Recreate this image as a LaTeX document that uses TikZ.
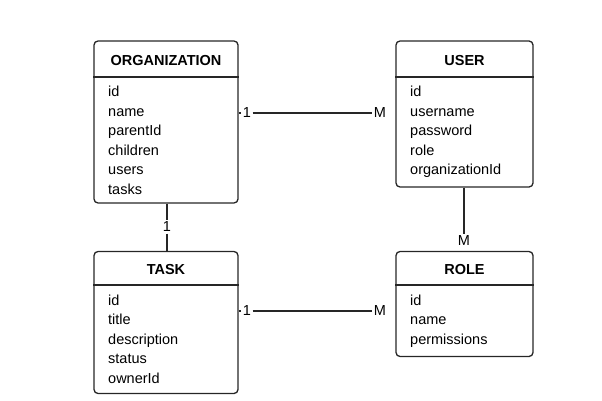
\documentclass[tikz,border=0pt]{standalone}
\usepackage{fontspec}
\setmainfont{Liberation Sans}
\begin{document}
\begin{tikzpicture}[x=1pt,y=-1pt,
  ent/.style={draw=black!85, line width=1.3pt, rounded corners=4pt, rectangle, inner sep=0pt},
  ttl/.style={font=\fontsize{14.5}{17}\selectfont\bfseries, anchor=base, inner sep=0pt},
  fld/.style={font=\fontsize{14.5}{17}\selectfont, anchor=base west, inner sep=0pt},
  lab/.style={font=\fontsize{14.5}{17}\selectfont, inner sep=1.5pt},
  conn/.style={line width=1.3pt, draw=black!85}]
\useasboundingbox (0,0) rectangle (602,401);
% entity boxes
\node[ent, minimum width=144pt, minimum height=162pt] (org) at (166,122) {};
\node[ent, minimum width=137pt, minimum height=146pt] (usr) at (464.5,114) {};
\node[ent, minimum width=144pt, minimum height=142pt] (tsk) at (166,322.5) {};
\node[ent, minimum width=137pt, minimum height=105pt] (rol) at (464.5,304) {};
% header separators
\draw[conn] (org.west |- 0,77) -- (org.east |- 0,77);
\draw[conn] (usr.west |- 0,77) -- (usr.east |- 0,77);
\draw[conn] (tsk.west |- 0,285) -- (tsk.east |- 0,285);
\draw[conn] (rol.west |- 0,285) -- (rol.east |- 0,285);
% titles
\node[ttl] (orgT) at (166,65.5) {ORGANIZATION};
\node[ttl] (usrT) at (464.5,65.5) {USER};
\node[ttl] (tskT) at (166,274.5) {TASK};
\node[ttl] (rolT) at (464.5,274.5) {ROLE};
% fields
\foreach \t [count=\i] in {id,name,parentId,children,users,tasks}
  \node[fld] (orgF\i) at (108,{97+19.4*(\i-1)}) {\t};
\foreach \t [count=\i] in {id,username,password,role,organizationId}
  \node[fld] (usrF\i) at (410,{97+19.4*(\i-1)}) {\t};
\foreach \t [count=\i] in {id,title,description,status,ownerId}
  \node[fld] (tskF\i) at (108,{305.5+19.4*(\i-1)}) {\t};
\foreach \t [count=\i] in {id,name,permissions}
  \node[fld] (rolF\i) at (410,{305.5+19.4*(\i-1)}) {\t};
% ORGANIZATION -- USER
\node[lab] (ou1) at (247,113) {1};
\node[lab] (ouM) at (380,113) {M};
\draw[conn] (org.east |- ou1) -- (ou1.west);
\draw[conn] (ou1.east) -- (ouM.west);
% ORGANIZATION -- TASK
\node[lab] (ot1) at (167,227) {1};
\draw[conn] (org.south -| ot1) -- (ot1.north);
\draw[conn] (ot1.south) -- (tsk.north -| ot1);
% USER -- ROLE
\node[lab] (urM) at (464,241) {M};
\draw[conn] (usr.south -| urM) -- (urM.north);
% TASK -- ROLE
\node[lab] (tr1) at (247,311) {1};
\node[lab] (trM) at (380,311) {M};
\draw[conn] (tsk.east |- tr1) -- (tr1.west);
\draw[conn] (tr1.east) -- (trM.west);
\end{tikzpicture}
\end{document}
